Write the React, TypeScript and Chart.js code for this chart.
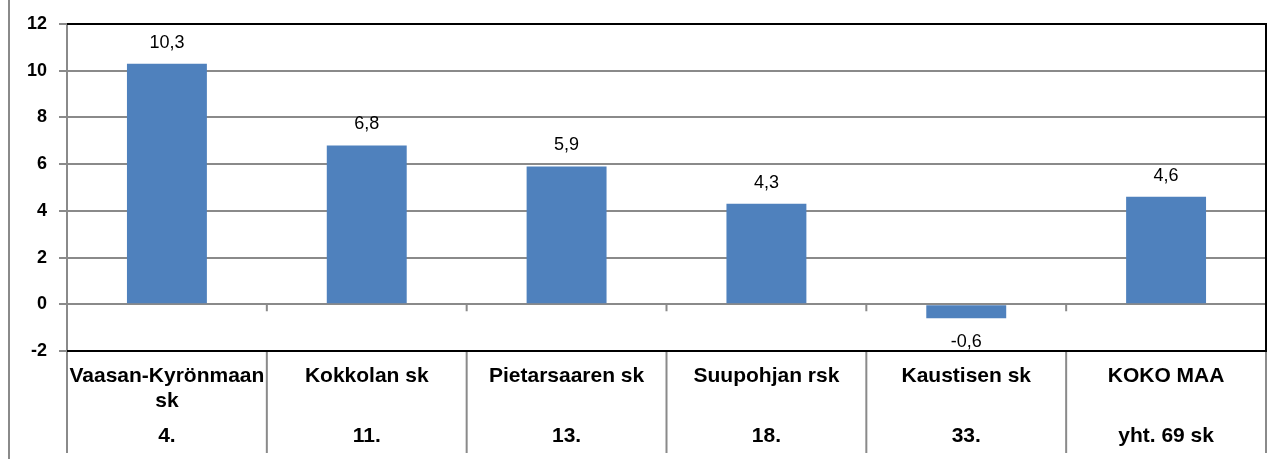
import React, { useEffect, useRef } from 'react';
import { Chart, registerables } from 'chart.js';

Chart.register(...registerables);

const categories: (string | string[])[] = [
  ['Vaasan-Kyrönmaan', 'sk'],
  'Kokkolan sk',
  'Pietarsaaren sk',
  'Suupohjan rsk',
  'Kaustisen sk',
  'KOKO MAA',
];
const ranks: string[] = ['4.', '11.', '13.', '18.', '33.', 'yht. 69 sk'];
const values: number[] = [10.3, 6.8, 5.9, 4.3, -0.6, 4.6];
const yMin = -2;
const yMax = 12;
const yStep = 2;

const FONT = '"Liberation Sans", Arial, Helvetica, sans-serif';
const GRAY = '#8a8a8a';
const BAR = '#4F81BD';

const framePlugin = {
  id: 'frame',
  afterDraw(chart: any) {
    const { ctx, chartArea: a, scales } = chart;
    const xs = scales.x;
    const ys = scales.y;
    const n = categories.length;
    const bounds: number[] = [a.left];
    for (let i = 1; i < n; i++) {
      bounds.push((xs.getPixelForValue(i - 1) + xs.getPixelForValue(i)) / 2);
    }
    bounds.push(a.right);
    const zeroY = ys.getPixelForValue(0);
    ctx.save();
    ctx.strokeStyle = GRAY;
    ctx.lineWidth = 2;
    ctx.beginPath();
    for (let i = 1; i < n; i++) {
      ctx.moveTo(bounds[i], zeroY);
      ctx.lineTo(bounds[i], zeroY + 7);
    }
    const bottomY = chart.height - 6;
    for (let i = 0; i <= n; i++) {
      ctx.moveTo(bounds[i], a.bottom);
      ctx.lineTo(bounds[i], bottomY);
    }
    ctx.moveTo(9, 0);
    ctx.lineTo(9, chart.height);
    ctx.stroke();
    ctx.strokeStyle = '#000000';
    ctx.lineWidth = 2;
    ctx.beginPath();
    ctx.moveTo(a.left, a.top);
    ctx.lineTo(a.right, a.top);
    ctx.lineTo(a.right, a.bottom);
    ctx.lineTo(a.left, a.bottom);
    ctx.stroke();
    const meta = chart.getDatasetMeta(0);
    ctx.fillStyle = '#000000';
    ctx.font = `18px ${FONT}`;
    ctx.textAlign = 'center';
    ctx.textBaseline = 'middle';
    meta.data.forEach((el: any, i: number) => {
      const v = values[i];
      const txt = v.toFixed(1).replace('.', ',');
      const y = v >= 0 ? el.y - 21 : el.y + 24;
      ctx.fillText(txt, el.x, y);
    });
    ctx.restore();
  },
};

export default function App() {
  const ref = useRef<HTMLCanvasElement | null>(null);
  useEffect(() => {
    if (!ref.current) return;
    const chart = new Chart(ref.current, {
      type: 'bar',
      data: {
        labels: categories as any,
        datasets: [
          {
            data: values,
            backgroundColor: BAR,
            borderWidth: 0,
            categoryPercentage: 1,
            barPercentage: 0.4,
            xAxisID: 'x',
            yAxisID: 'y',
          },
        ],
      },
      options: {
        animation: false,
        responsive: true,
        maintainAspectRatio: false,
        layout: { padding: { top: 24, right: 14, left: 0, bottom: 10.5 } },
        plugins: { legend: { display: false }, tooltip: { enabled: false } },
        scales: {
          x: {
            type: 'category',
            position: 'bottom',
            weight: 0,
            offset: true,
            grid: { display: false, drawTicks: false },
            border: { display: false },
            ticks: {
              autoSkip: false,
              maxRotation: 0,
              minRotation: 0,
              padding: 12.5,
              color: '#000000',
              font: { family: FONT, size: 21, weight: 'bold', lineHeight: '25px' as any },
            },
            afterFit: (s: any) => {
              s.height = 62.5;
            },
          },
          x2: {
            type: 'category',
            position: 'bottom',
            weight: 1,
            labels: ranks,
            offset: true,
            grid: { display: false, drawTicks: false },
            border: { display: false },
            ticks: {
              autoSkip: false,
              maxRotation: 0,
              minRotation: 0,
              padding: 10,
              color: '#000000',
              font: { family: FONT, size: 21, weight: 'bold', lineHeight: '25px' as any },
            },
            afterFit: (s: any) => {
              s.height = 35;
            },
          },
          y: {
            min: yMin,
            max: yMax,
            grid: { color: GRAY, lineWidth: 2, drawTicks: true, tickLength: 8 },
            border: { display: true, color: GRAY, width: 2 },
            ticks: {
              stepSize: yStep,
              padding: 12,
              color: '#000000',
              font: { family: FONT, size: 18, weight: 'bold' },
            },
            afterFit: (s: any) => {
              s.width = 67;
            },
          },
        },
      },
      plugins: [framePlugin],
    });
    return () => chart.destroy();
  }, []);
  return (
    <div style={{ position: 'fixed', left: 0, top: 0, width: 1280, height: 459, background: '#ffffff' }}>
      <canvas ref={ref} />
    </div>
  );
}
